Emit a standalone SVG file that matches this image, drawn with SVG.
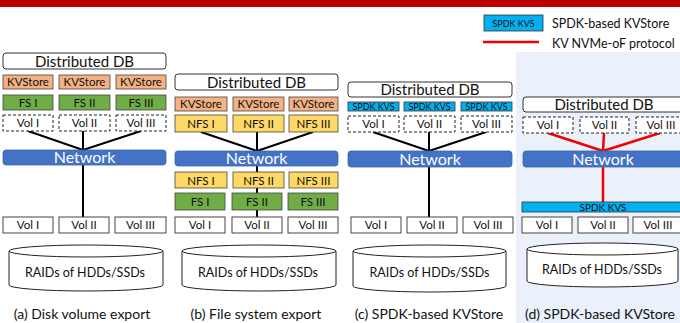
<svg xmlns="http://www.w3.org/2000/svg" width="680" height="323" viewBox="0 0 680 323">
<style>
text{font-family:Lato,"Liberation Sans",sans-serif;fill:#111;text-anchor:middle}
.db{fill:#fff;stroke:#333;stroke-width:1}
.kv{fill:#F4B183;stroke:#444;stroke-width:0.8}
.fs{fill:#70AD47;stroke:#444;stroke-width:0.8}
.nfs{fill:#FFD966;stroke:#444;stroke-width:0.8}
.spdk{fill:#00B0F0;stroke:#333;stroke-width:0.8}
.vd{fill:#fff;stroke:#222;stroke-width:1;stroke-dasharray:3,2}
.vs{fill:#fff;stroke:#444;stroke-width:1}
.net{fill:#4472C4;stroke:#3A64B0;stroke-width:0.8}
.cyl{fill:#fff;stroke:#222;stroke-width:1}
.t11{font-size:11.5px}
.t14{font-size:15px}
.tn{font-size:16px;fill:#fff}
.ts{font-size:9px}
.tr{font-size:12.5px}
.tc{font-size:14px}
.lg{font-size:12.5px;text-anchor:start}
.bl{stroke:#000;stroke-width:2;fill:none}
.rl{stroke:#F00000;stroke-width:2.5;fill:none}
</style>
<rect x="0" y="0" width="680" height="7" fill="#BA0000"/>
<rect x="516" y="52" width="164" height="271" fill="#EAF1FA"/>

<g id="legend">
<rect x="484" y="15" width="59" height="16" class="spdk"/>
<text x="513.5" y="27" class="ts">SPDK KVS</text>
<text x="552" y="28" class="lg">SPDK-based KVStore</text>
<line x1="483" y1="42" x2="539" y2="42" class="rl"/>
<text x="552" y="48" class="lg">KV NVMe-oF protocol</text>
</g>

<g id="connectors">
<path class="bl" d="M28,131 L83,150 M83,131 L83,150 M141,131 L83,150 M83,165 L83,217"/>
<path class="bl" d="M201,132 L257,151 M257,132 L257,151 M313,132 L257,151 M257,166 L257,217"/>
<path class="bl" d="M373,132 L429,151 M429,132 L429,151 M486,132 L429,151 M429,167 L429,217"/>
<path class="rl" d="M548,133 L603,151 M604,133 L603,151 M660,133 L603,151 M603,167 L603,202"/>
</g>

<g id="panel-a">
<g id="a-db"><rect x="3" y="53" width="163" height="16" rx="3" class="db"/><text x="84.5" y="66.5" class="t14">Distributed DB</text></g>
<g id="a-kv1"><rect x="3" y="75" width="50" height="14" class="kv"/><text x="28" y="86" class="t11">KVStore</text></g>
<g id="a-kv2"><rect x="59" y="75" width="51" height="14" class="kv"/><text x="84.5" y="86" class="t11">KVStore</text></g>
<g id="a-kv3"><rect x="116" y="75" width="50" height="14" class="kv"/><text x="141" y="86" class="t11">KVStore</text></g>
<g id="a-fs1"><rect x="3" y="95" width="50" height="15" class="fs"/><text x="28" y="107" class="t11">FS I</text></g>
<g id="a-fs2"><rect x="59" y="95" width="51" height="15" class="fs"/><text x="84.5" y="107" class="t11">FS II</text></g>
<g id="a-fs3"><rect x="116" y="95" width="50" height="15" class="fs"/><text x="141" y="107" class="t11">FS III</text></g>
<g id="a-v1"><rect x="3" y="115" width="50" height="16" class="vd"/><text x="28" y="127" class="t11">Vol I</text></g>
<g id="a-v2"><rect x="59" y="115" width="51" height="16" class="vd"/><text x="84.5" y="127" class="t11">Vol II</text></g>
<g id="a-v3"><rect x="116" y="115" width="50" height="16" class="vd"/><text x="141" y="127" class="t11">Vol III</text></g>
<g id="a-net"><rect x="3" y="150" width="163" height="15" rx="3" class="net"/><text x="84.5" y="163" class="tn">Network</text></g>
<g id="a-bv1"><rect x="3" y="217" width="50" height="16" class="vs"/><text x="28" y="229" class="t11">Vol I</text></g>
<g id="a-bv2"><rect x="59" y="217" width="50" height="16" class="vs"/><text x="84" y="229" class="t11">Vol II</text></g>
<g id="a-bv3"><rect x="115" y="217" width="51" height="16" class="vs"/><text x="140.5" y="229" class="t11">Vol III</text></g>
<g id="a-raid"><path class="cyl" d="M9,251 L9,285 A77,6 0 0 0 163,285 L163,251 A77,6 0 0 0 9,251 A77,6 0 0 0 163,251"/><text x="85" y="277" class="tr">RAIDs of HDDs/SSDs</text></g>
<text x="82" y="319" class="tc">(a) Disk volume export</text>
</g>

<g id="panel-b">
<g id="b-db"><rect x="175" y="74" width="163" height="16" rx="3" class="db"/><text x="256.5" y="87.5" class="t14">Distributed DB</text></g>
<g id="b-kv1"><rect x="175" y="97" width="52" height="14" class="kv"/><text x="201" y="108" class="t11">KVStore</text></g>
<g id="b-kv2"><rect x="233" y="97" width="51" height="14" class="kv"/><text x="258.5" y="108" class="t11">KVStore</text></g>
<g id="b-kv3"><rect x="289" y="97" width="49" height="14" class="kv"/><text x="313.5" y="108" class="t11">KVStore</text></g>
<g id="b-nfs1"><rect x="175" y="115" width="52" height="17" class="nfs"/><text x="201" y="128" class="t11">NFS I</text></g>
<g id="b-nfs2"><rect x="233" y="115" width="51" height="17" class="nfs"/><text x="258.5" y="128" class="t11">NFS II</text></g>
<g id="b-nfs3"><rect x="289" y="115" width="49" height="17" class="nfs"/><text x="313.5" y="128" class="t11">NFS III</text></g>
<g id="b-net"><rect x="175" y="151" width="163" height="15" rx="3" class="net"/><text x="256.5" y="164" class="tn">Network</text></g>
<g id="b-nfs4"><rect x="175" y="172" width="52" height="16" class="nfs"/><text x="201" y="184.5" class="t11">NFS I</text></g>
<g id="b-nfs5"><rect x="233" y="172" width="51" height="16" class="nfs"/><text x="258.5" y="184.5" class="t11">NFS II</text></g>
<g id="b-nfs6"><rect x="289" y="172" width="49" height="16" class="nfs"/><text x="313.5" y="184.5" class="t11">NFS III</text></g>
<g id="b-fs1"><rect x="175" y="193" width="50" height="17" class="fs"/><text x="200" y="206" class="t11">FS I</text></g>
<g id="b-fs2"><rect x="232" y="193" width="50" height="17" class="fs"/><text x="257" y="206" class="t11">FS II</text></g>
<g id="b-fs3"><rect x="288" y="193" width="50" height="17" class="fs"/><text x="313" y="206" class="t11">FS III</text></g>
<g id="b-bv1"><rect x="175" y="217" width="50" height="16" class="vs"/><text x="200" y="229" class="t11">Vol I</text></g>
<g id="b-bv2"><rect x="232" y="217" width="50" height="16" class="vs"/><text x="257" y="229" class="t11">Vol II</text></g>
<g id="b-bv3"><rect x="288" y="217" width="50" height="16" class="vs"/><text x="313" y="229" class="t11">Vol III</text></g>
<g id="b-raid"><path class="cyl" d="M182,251 L182,285 A77,6 0 0 0 336,285 L336,251 A77,6 0 0 0 182,251 A77,6 0 0 0 336,251"/><text x="258" y="277" class="tr">RAIDs of HDDs/SSDs</text></g>
<text x="256" y="319" class="tc">(b) File system export</text>
</g>

<g id="panel-c">
<g id="c-db"><rect x="348" y="82" width="164" height="15" rx="3" class="db"/><text x="430" y="95" class="t14">Distributed DB</text></g>
<g id="c-k1"><rect x="348" y="102" width="51" height="9" class="spdk"/><text x="373.5" y="110" class="ts">SPDK KVS</text></g>
<g id="c-k2"><rect x="404" y="102" width="51" height="9" class="spdk"/><text x="429.5" y="110" class="ts">SPDK KVS</text></g>
<g id="c-k3"><rect x="461" y="102" width="51" height="9" class="spdk"/><text x="486.5" y="110" class="ts">SPDK KVS</text></g>
<g id="c-v1"><rect x="348" y="116" width="51" height="16" class="vd"/><text x="373.5" y="128" class="t11">Vol I</text></g>
<g id="c-v2"><rect x="404" y="116" width="51" height="16" class="vd"/><text x="429.5" y="128" class="t11">Vol II</text></g>
<g id="c-v3"><rect x="461" y="116" width="51" height="16" class="vd"/><text x="486.5" y="128" class="t11">Vol III</text></g>
<g id="c-net"><rect x="348" y="151" width="164" height="16" rx="3" class="net"/><text x="430" y="164.5" class="tn">Network</text></g>
<g id="c-bv1"><rect x="351" y="217" width="50" height="16" class="vs"/><text x="376" y="229" class="t11">Vol I</text></g>
<g id="c-bv2"><rect x="407" y="217" width="50" height="16" class="vs"/><text x="432" y="229" class="t11">Vol II</text></g>
<g id="c-bv3"><rect x="463" y="217" width="50" height="16" class="vs"/><text x="488" y="229" class="t11">Vol III</text></g>
<g id="c-raid"><path class="cyl" d="M353,251 L353,286 A76.5,6 0 0 0 506,286 L506,251 A76.5,6 0 0 0 353,251 A76.5,6 0 0 0 506,251"/><text x="429.5" y="277" class="tr">RAIDs of HDDs/SSDs</text></g>
<text x="429" y="319" class="tc">(c) SPDK-based KVStore</text>
</g>

<g id="panel-d">
<g id="d-db"><rect x="523" y="97" width="164" height="15" rx="3" class="db"/><text x="604" y="110" class="t14">Distributed DB</text></g>
<g id="d-v1"><rect x="523" y="117" width="50" height="16" class="vd"/><text x="548" y="129" class="t11">Vol I</text></g>
<g id="d-v2"><rect x="580" y="117" width="49" height="16" class="vd"/><text x="604.5" y="129" class="t11">Vol II</text></g>
<g id="d-v3"><rect x="636" y="117" width="50" height="16" class="vd"/><text x="661" y="129" class="t11">Vol III</text></g>
<g id="d-net"><rect x="523" y="151" width="164" height="16" rx="3" class="net"/><text x="603" y="164.5" class="tn">Network</text></g>
<g id="d-kvs"><rect x="522" y="202" width="162" height="10" class="spdk"/><text x="603" y="211" style="font-size:10px">SPDK KVS</text></g>
<g id="d-bv1"><rect x="522" y="217" width="50" height="16" class="vs"/><text x="547" y="229" class="t11">Vol I</text></g>
<g id="d-bv2"><rect x="578" y="217" width="50" height="16" class="vs"/><text x="603" y="229" class="t11">Vol II</text></g>
<g id="d-bv3"><rect x="633" y="217" width="50" height="16" class="vs"/><text x="658" y="229" class="t11">Vol III</text></g>
<g id="d-raid"><path class="cyl" d="M527,249 L527,281 A75.5,6 0 0 0 678,281 L678,249 A75.5,6 0 0 0 527,249 A75.5,6 0 0 0 678,249"/><text x="602" y="274" class="tr">RAIDs of HDDs/SSDs</text></g>
<text x="600" y="319" class="tc">(d) SPDK-based KVStore</text>
</g>
</svg>
